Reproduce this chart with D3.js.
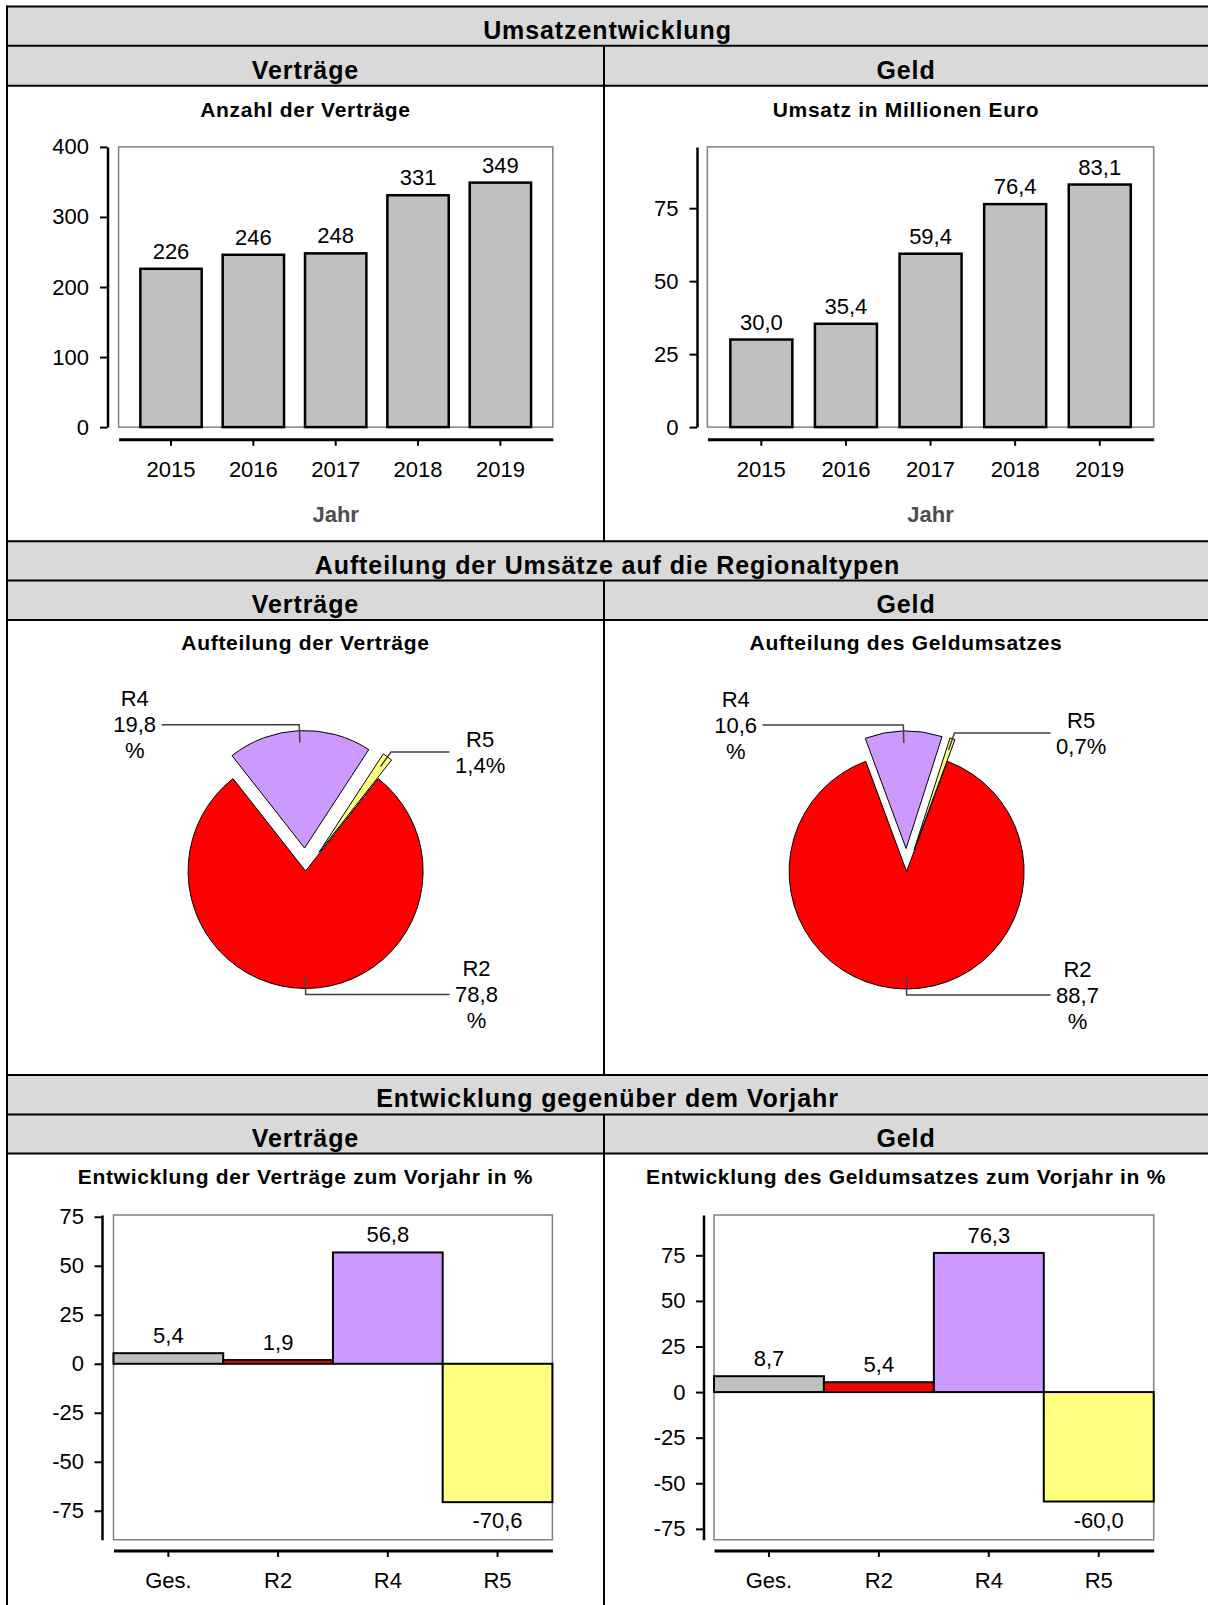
<!DOCTYPE html>
<html>
<head>
<meta charset="utf-8">
<script src="https://cdnjs.cloudflare.com/ajax/libs/d3/7.8.5/d3.min.js"></script>
<style>
  html, body { margin: 0; padding: 0; background: #fff; }
  svg { display: block; font-family: "Liberation Sans", Arial, Helvetica, sans-serif; }
</style>
</head>
<body>
<svg id="chart" width="1208" height="1605"></svg>
<script>
// ---------------- DATA ----------------
const sectionTitles = ["Umsatzentwicklung", "Aufteilung der Umsätze auf die Regionaltypen", "Entwicklung gegenüber dem Vorjahr"];
const columnTitles = ["Verträge", "Geld"];
const chartTitles = [
  ["Anzahl der Verträge", "Umsatz in Millionen Euro"],
  ["Aufteilung der Verträge", "Aufteilung des Geldumsatzes"],
  ["Entwicklung der Verträge zum Vorjahr in %", "Entwicklung des Geldumsatzes zum Vorjahr in %"]
];
const xAxisTitle = "Jahr";

const years = ["2015", "2016", "2017", "2018", "2019"];
const vertraegeAnzahl = [226, 246, 248, 331, 349];
const geldUmsatz = [30.0, 35.4, 59.4, 76.4, 83.1];
const anzahlTicks = [0, 100, 200, 300, 400];
const anzahlDomain = [0, 400];
const umsatzTicks = [0, 25, 50, 75];
const umsatzDomain = [0, 96];

const regions = ["R2", "R4", "R5"];
const vertraegeAnteil = [78.8, 19.8, 1.4];
const geldAnteil = [88.7, 10.6, 0.7];

const devCategories = ["Ges.", "R2", "R4", "R5"];
const vertraegeEntwicklung = [5.4, 1.9, 56.8, -70.6];
const geldEntwicklung = [8.7, 5.4, 76.3, -60.0];
const devTicks = [-75, -50, -25, 0, 25, 50, 75];
const vertraegeDevDomain = [-89.8, 75.9];
const geldDevDomain = [-81, 97.1];

// ---------------- STYLE ----------------
const colors = { R2: "#ff0000", R4: "#cc99ff", R5: "#ffff80", Ges: "#c0c0c0" };
const headerFill = "#d9d9d9";
const FONT_TICK = 22;

const svg = d3.select("#chart");
const de = d3.formatLocale({ decimal: ",", thousands: ".", grouping: [3], currency: ["", " €"], minus: "-" });
const fmt1 = de.format(".1f");
const fmtInt = de.format("d");

// ---------------- FRAME / HEADERS ----------------
const frame = { left: 7, divider: 604, right: 1210 };
const rows = [
  { top: 6.5, mid: 45.7, sub: 85.7, bottom: 541.3 },
  { top: 541.3, mid: 580.6, sub: 619.9, bottom: 1075 },
  { top: 1075, mid: 1114.4, sub: 1153.6, bottom: 1607 }
];
const colCenters = [305.5, 906];

rows.forEach((r, i) => {
  svg.append("rect").attr("x", frame.left).attr("y", r.top).attr("width", frame.right - frame.left)
    .attr("height", r.sub - r.top).attr("fill", headerFill);
});
rows.forEach((r, i) => {
  [r.top, r.mid, r.sub].forEach(y => {
    svg.append("line").attr("x1", frame.left).attr("x2", frame.right).attr("y1", y).attr("y2", y)
      .attr("stroke", "#000").attr("stroke-width", 2);
  });
  svg.append("line").attr("x1", frame.divider).attr("x2", frame.divider).attr("y1", r.mid).attr("y2", r.bottom)
    .attr("stroke", "#000").attr("stroke-width", 2);
  svg.append("text").attr("x", (frame.left + 1208) / 2).attr("y", r.mid - 7)
    .attr("text-anchor", "middle").attr("font-size", 25).attr("font-weight", "bold")
    .attr("letter-spacing", 0.9).text(sectionTitles[i]);
  columnTitles.forEach((t, j) => {
    svg.append("text").attr("x", colCenters[j]).attr("y", r.sub - 7)
      .attr("text-anchor", "middle").attr("font-size", 25).attr("font-weight", "bold")
      .attr("letter-spacing", 0.9).text(t);
  });
});
svg.append("line").attr("x1", frame.left).attr("x2", frame.left).attr("y1", 5.5).attr("y2", 1605)
  .attr("stroke", "#000").attr("stroke-width", 2);

const titleY = [117, 650, 1184];
chartTitles.forEach((pair, i) => {
  pair.forEach((t, j) => {
    svg.append("text").attr("x", colCenters[j]).attr("y", titleY[i])
      .attr("text-anchor", "middle").attr("font-size", 21).attr("font-weight", "bold")
      .attr("letter-spacing", 0.7).text(t);
  });
});

// ---------------- helpers ----------------
function styleAxis(g, domainWidth) {
  g.select(".domain").attr("stroke", "#000").attr("stroke-width", domainWidth);
  g.selectAll(".tick line").attr("stroke", "#000").attr("stroke-width", 2);
  g.selectAll(".tick text").attr("font-size", FONT_TICK).attr("font-family", "Liberation Sans, Arial, sans-serif").attr("fill", "#000");
}

// ---------------- BAR CHARTS (top) ----------------
function yearBarChart(cfg) {
  const x = d3.scaleBand().domain(cfg.cats).range([cfg.box.x0, cfg.box.x1])
    .paddingInner(cfg.padIn).paddingOuter(cfg.padOut);
  const y = d3.scaleLinear().domain(cfg.domain).range([cfg.box.bottom, cfg.box.top]);
  const g = svg.append("g");
  g.append("rect").attr("x", cfg.box.x0).attr("y", cfg.box.top)
    .attr("width", cfg.box.x1 - cfg.box.x0).attr("height", cfg.box.bottom - cfg.box.top)
    .attr("fill", "#fff").attr("stroke", "#808080").attr("stroke-width", 1.5);
  g.selectAll("rect.bar").data(cfg.vals).join("rect").attr("class", "bar")
    .attr("x", (d, i) => x(cfg.cats[i])).attr("width", x.bandwidth())
    .attr("y", d => y(d)).attr("height", d => y(0) - y(d))
    .attr("fill", colors.Ges).attr("stroke", "#000").attr("stroke-width", 2.5);
  g.selectAll("text.val").data(cfg.vals).join("text").attr("class", "val")
    .attr("x", (d, i) => x(cfg.cats[i]) + x.bandwidth() / 2).attr("y", d => y(d) - 10)
    .attr("text-anchor", "middle").attr("font-size", FONT_TICK).text(cfg.fmt);
  const ya = svg.append("g").attr("transform", `translate(${cfg.yAxisX},0)`)
    .call(d3.axisLeft(y).tickValues(cfg.ticks).tickSize(7.5).tickSizeOuter(0).tickPadding(11).tickFormat(fmtInt));
  styleAxis(ya, 2.5);
  const xa = svg.append("g").attr("transform", `translate(0,${cfg.xAxisY})`)
    .call(d3.axisBottom(x).tickSize(6.5).tickSizeOuter(0).tickPadding(16));
  styleAxis(xa, 3);
  svg.append("text").attr("x", (cfg.box.x0 + cfg.box.x1) / 2).attr("y", 522)
    .attr("text-anchor", "middle").attr("font-size", 22).attr("font-weight", "bold")
    .attr("fill", "#4d4d4d").text(xAxisTitle);
}

yearBarChart({
  cats: years, vals: vertraegeAnzahl, ticks: anzahlTicks, domain: anzahlDomain,
  box: { x0: 118.6, x1: 552.8, top: 146.9, bottom: 427.1 }, yAxisX: 107.5, xAxisY: 439.3,
  padIn: 0.255, padOut: 0.264, fmt: fmtInt
});
yearBarChart({
  cats: years, vals: geldUmsatz, ticks: umsatzTicks, domain: umsatzDomain,
  box: { x0: 707.4, x1: 1153.7, top: 146.9, bottom: 427.1 }, yAxisX: 697, xAxisY: 439.3,
  padIn: 0.267, padOut: 0.271, fmt: fmt1
});

// ---------------- PIES ----------------
function pieChart(cfg) {
  const total = d3.sum(cfg.shares);
  const s0 = Math.PI * (1 - cfg.shares[0] / total);
  const arcs = d3.pie().sort(null).startAngle(s0).endAngle(s0 + 2 * Math.PI)(cfg.shares);
  const arc = d3.arc().innerRadius(0).outerRadius(cfg.r);
  const g = svg.append("g").attr("transform", `translate(${cfg.cx},${cfg.cy})`);
  const r = cfg.r;
  arcs.forEach((a, i) => {
    const mid = (a.startAngle + a.endAngle) / 2;
    const off = i === 0 ? 0 : cfg.explode;
    const ox = Math.sin(mid) * off, oy = -Math.cos(mid) * off;
    g.append("path").attr("d", arc(a)).attr("transform", `translate(${ox},${oy})`)
      .attr("fill", colors[cfg.names[i]]).attr("stroke", "#000").attr("stroke-width", 1);
  });
  arcs.forEach((a, i) => {
    const mid = (a.startAngle + a.endAngle) / 2;
    const off = i === 0 ? 0 : cfg.explode;
    const ox = Math.sin(mid) * off, oy = -Math.cos(mid) * off;
    const p1 = [ox + Math.sin(mid) * (r - 12), oy - Math.cos(mid) * (r - 12)];
    const p2 = [ox + Math.sin(mid) * (r + 6), oy - Math.cos(mid) * (r + 6)];
    const side = Math.sin(mid) < -0.01 ? -1 : 1;
    const endX = side * 144;
    g.append("polyline").attr("points", [p1, p2, [endX, p2[1]]].map(p => p.join(",")).join(" "))
      .attr("fill", "none").attr("stroke", "#404040").attr("stroke-width", 1.5);
    const v = cfg.shares[i];
    const lines = v < 5 ? [cfg.names[i], fmt1(v) + "%"] : [cfg.names[i], fmt1(v), "%"];
    const tg = g.append("g");
    const texts = lines.map((t, k) => tg.append("text").attr("font-size", FONT_TICK)
      .attr("text-anchor", "middle").attr("dy", "0.35em")
      .attr("y", p2[1] + (k - (lines.length - 1) / 2) * 26).text(t));
    const maxW = d3.max(texts, t => t.node().getComputedTextLength());
    const cxText = endX + side * (5.5 + maxW / 2);
    texts.forEach(t => t.attr("x", cxText));
  });
}

pieChart({ cx: 305.6, cy: 871, r: 117.5, explode: 23, names: regions, shares: vertraegeAnteil });
pieChart({ cx: 906.6, cy: 871.5, r: 117.5, explode: 23, names: regions, shares: geldAnteil });

// ---------------- DEVELOPMENT BAR CHARTS (bottom) ----------------
function devChart(cfg) {
  const x = d3.scaleBand().domain(cfg.cats).range([cfg.box.x0, cfg.box.x1]).padding(0);
  const y = d3.scaleLinear().domain(cfg.domain).range([cfg.box.bottom, cfg.box.top]);
  const g = svg.append("g");
  g.append("rect").attr("x", cfg.box.x0).attr("y", cfg.box.top)
    .attr("width", cfg.box.x1 - cfg.box.x0).attr("height", cfg.box.bottom - cfg.box.top)
    .attr("fill", "#fff").attr("stroke", "#808080").attr("stroke-width", 1.5);
  const fills = [colors.Ges, colors.R2, colors.R4, colors.R5];
  g.selectAll("rect.bar").data(cfg.vals).join("rect").attr("class", "bar")
    .attr("x", (d, i) => x(cfg.cats[i])).attr("width", x.bandwidth())
    .attr("y", d => y(Math.max(0, d))).attr("height", d => Math.abs(y(d) - y(0)))
    .attr("fill", (d, i) => fills[i]).attr("stroke", "#000").attr("stroke-width", 2);
  g.selectAll("text.val").data(cfg.vals).join("text").attr("class", "val")
    .attr("x", (d, i) => x(cfg.cats[i]) + x.bandwidth() / 2)
    .attr("y", d => d >= 0 ? y(d) - 10 : y(d) + 26)
    .attr("text-anchor", "middle").attr("font-size", FONT_TICK).text(fmt1);
  const ya = svg.append("g").attr("transform", `translate(${cfg.yAxisX},0)`)
    .call(d3.axisLeft(y).tickValues(devTicks).tickSize(7.5).tickSizeOuter(0).tickPadding(10.5).tickFormat(fmtInt));
  styleAxis(ya, 2.5);
  const xa = svg.append("g").attr("transform", `translate(0,${cfg.xAxisY})`)
    .call(d3.axisBottom(x).tickSize(6.5).tickSizeOuter(0).tickPadding(15.5));
  styleAxis(xa, 3);
}

devChart({
  cats: devCategories, vals: vertraegeEntwicklung, domain: vertraegeDevDomain,
  box: { x0: 113.5, x1: 552.4, top: 1215, bottom: 1539.8 }, yAxisX: 102, xAxisY: 1550.4
});
devChart({
  cats: devCategories, vals: geldEntwicklung, domain: geldDevDomain,
  box: { x0: 714, x1: 1153.7, top: 1215, bottom: 1539.8 }, yAxisX: 703.5, xAxisY: 1550.4
});
</script>
</body>
</html>
